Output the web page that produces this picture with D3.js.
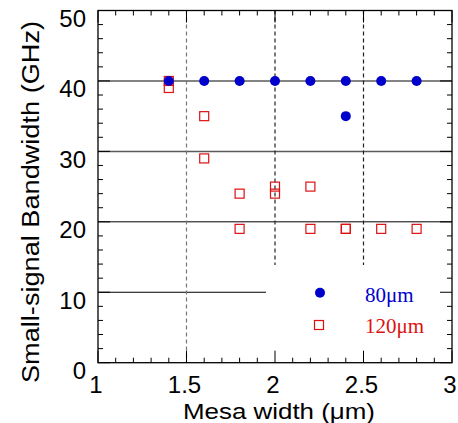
<!DOCTYPE html>
<html><head><meta charset="utf-8">
<script src="https://cdn.jsdelivr.net/npm/d3@7"></script>
<style>body{margin:0;background:#fff}svg{display:block}</style>
</head><body>
<svg id="c" width="458" height="423"></svg>
<script>
// Data
const series80X = [1.4, 1.6, 1.8, 2.0, 2.2, 2.4, 2.6, 2.8, 2.4];
const series80Y = [40, 40, 40, 40, 40, 40, 40, 40, 35];
const series120X = [1.4, 1.4, 1.6, 1.6, 1.8, 1.8, 2.0, 2.0, 2.2, 2.2, 2.4, 2.4, 2.6, 2.8];
const series120Y = [40, 39, 35, 29, 24, 19, 25, 24, 25, 19, 19, 19, 19, 19];
const xTicks = [1, 1.5, 2, 2.5, 3];
const xTickLabels = ["1", "1.5", "2", "2.5", "3"];
const yTicks = [0, 10, 20, 30, 40, 50];
const yTickLabels = ["0", "10", "20", "30", "40", "50"];
const legendLabels = ["80\u03bcm", "120\u03bcm"];

const svg = d3.select("#c");
const L = 98, R = 452, T = 10.5, B = 362.7;
const x = d3.scaleLinear().domain([1, 3]).range([L, R]);
const y = d3.scaleLinear().domain([0, 50]).range([B, T]);
const sans = "Liberation Sans, Arial, sans-serif";
const serif = "Liberation Serif, Times New Roman, serif";

// horizontal grid lines
const hl = [{v:40,c:"#5a5a5a",w:1.5},{v:30,c:"#5a5a5a",w:1.5},{v:20,c:"#000",w:1},{v:10,c:"#000",w:1}];
svg.selectAll("line.h").data(hl).enter().append("line")
  .attr("x1", L).attr("x2", R).attr("y1", d => y(d.v)).attr("y2", d => y(d.v))
  .attr("stroke", d => d.c).attr("stroke-width", d => d.w);
// vertical dashed lines
const vl = [{v:1.5,c:"#777"},{v:2,c:"#222"},{v:2.5,c:"#222"}];
svg.selectAll("line.v").data(vl).enter().append("line")
  .attr("x1", d => x(d.v)).attr("x2", d => x(d.v)).attr("y1", T).attr("y2", B)
  .attr("stroke", d => d.c).attr("stroke-width", 1.2).attr("stroke-dasharray", "4,3");

// legend box (white) covering
svg.append("rect").attr("x", 266).attr("y", 265).attr("width", R - 266).attr("height", B - 265).attr("fill", "#fff");

// axes: ticks inside
const minorX = d3.range(1, 3.0001, 0.1);
const minorY = d3.range(0, 50.0001, 2);
const g = svg.append("g").attr("stroke", "#000").attr("stroke-width", 1);
minorX.forEach(v => {
  const major = Math.abs(v * 2 - Math.round(v * 2)) < 1e-6;
  const len = major ? 12 : 5;
  g.append("line").attr("x1", x(v)).attr("x2", x(v)).attr("y1", B).attr("y2", B - len);
  g.append("line").attr("x1", x(v)).attr("x2", x(v)).attr("y1", T).attr("y2", T + (major ? 12 : 5));
});
minorY.forEach(v => {
  const major = v % 10 === 0;
  const len = major ? 12 : 5;
  g.append("line").attr("x1", L).attr("x2", L + len).attr("y1", y(v)).attr("y2", y(v));
  g.append("line").attr("x1", R).attr("x2", R - len).attr("y1", y(v)).attr("y2", y(v));
});
svg.append("rect").attr("x", L).attr("y", T).attr("width", R - L).attr("height", B - T)
  .attr("fill", "none").attr("stroke", "#000").attr("stroke-width", 1.3);

// tick labels
svg.selectAll("text.yl").data(yTicks).enter().append("text")
  .attr("x", 86).attr("y", d => y(d) + 16.5).attr("text-anchor", "end")
  .attr("font-family", sans).attr("font-size", 24)
  .text((d, i) => yTickLabels[i]);
svg.selectAll("text.xl").data(xTicks).enter().append("text")
  .attr("x", d => x(d) - 2).attr("y", 393).attr("text-anchor", "middle")
  .attr("font-family", sans).attr("font-size", 24)
  .text((d, i) => xTickLabels[i]);

// titles
svg.append("text").attr("x", 279).attr("y", 419).attr("text-anchor", "middle")
  .attr("font-family", sans).attr("font-size", 22)
  .attr("textLength", 192).attr("lengthAdjust", "spacingAndGlyphs")
  .text("Mesa width (\u03bcm)");
svg.append("text").attr("transform", "translate(39,202) rotate(-90)").attr("text-anchor", "middle")
  .attr("font-family", sans).attr("font-size", 23)
  .attr("textLength", 362).attr("lengthAdjust", "spacingAndGlyphs")
  .text("Small-signal Bandwidth (GHz)");

// data: red squares
const red = "#dd1111", blue = "#0000cc";
const s = 9;
svg.selectAll("rect.r").data(series120X.map((v, i) => [v, series120Y[i]])).enter().append("rect")
  .attr("x", d => x(d[0]) - s / 2).attr("y", d => y(d[1]) - s / 2).attr("width", s).attr("height", s)
  .attr("fill", "none").attr("stroke", red).attr("stroke-width", 1.2);
svg.selectAll("circle.b").data(series80X.map((v, i) => [v, series80Y[i]])).enter().append("circle")
  .attr("cx", d => x(d[0])).attr("cy", d => y(d[1])).attr("r", 5).attr("fill", blue);

// legend
svg.append("circle").attr("cx", 320).attr("cy", 292.7).attr("r", 5).attr("fill", blue);
svg.append("rect").attr("x", 319 - s / 2).attr("y", 325 - s / 2).attr("width", s).attr("height", s)
  .attr("fill", "none").attr("stroke", red).attr("stroke-width", 1.2);
svg.append("text").attr("x", 365).attr("y", 302).attr("fill", blue)
  .attr("font-family", serif).attr("font-size", 21).text(legendLabels[0]);
svg.append("text").attr("x", 365).attr("y", 333).attr("fill", red)
  .attr("font-family", serif).attr("font-size", 21).text(legendLabels[1]);
</script>
</body></html>
